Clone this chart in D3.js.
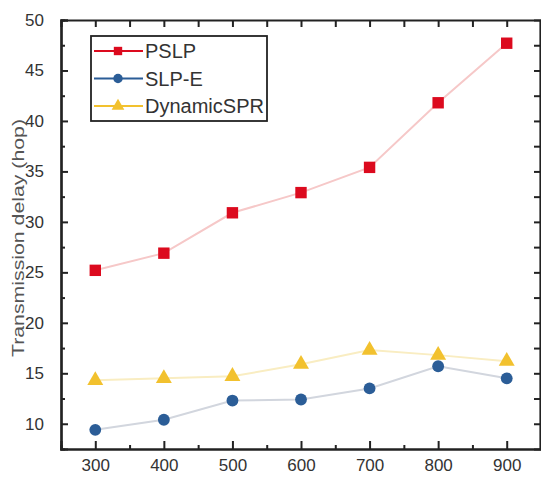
<!DOCTYPE html>
<html lang="en">
<head>
<meta charset="utf-8">
<script src="https://d3js.org/d3.v7.min.js"></script>
<style>
  body { margin: 0; background: #fff; }
  text { font-family: "Liberation Sans", Arial, sans-serif; }
</style>
</head>
<body>
<div id="container"></div>
<script>
var nodes = [300, 400, 500, 600, 700, 800, 900];
var pslp = [25.2, 26.9, 30.9, 32.9, 35.4, 41.8, 47.7];
var slpE = [9.4, 10.4, 12.3, 12.4, 13.5, 15.7, 14.5];
var dynamicSPR = [14.3, 14.5, 14.7, 15.9, 17.3, 16.8, 16.2];
var yTicks = [10, 15, 20, 25, 30, 35, 40, 45, 50];
var seriesNames = ["PSLP", "SLP-E", "DynamicSPR"];

var width = 541, height = 479;
var svg = d3.select("#container").append("svg")
    .attr("width", width).attr("height", height);

var x = d3.scaleLinear().domain([250, 950]).range([61, 541]);
var y = d3.scaleLinear().domain([7.5, 50]).range([449, 20]);

var series = [
  {name: seriesNames[0], values: pslp, marker: "square", color: "#dc0a1e", line: "#f6c8c8"},
  {name: seriesNames[1], values: slpE, marker: "circle", color: "#2b5d97", line: "#d2d6de"},
  {name: seriesNames[2], values: dynamicSPR, marker: "triangle", color: "#f2c12e", line: "#f9edc2"}
];

function symbolFor(m) {
  if (m == "square") return d3.symbol().type(d3.symbolSquare).size(130);
  if (m == "circle") return d3.symbol().type(d3.symbolCircle).size(110);
  return d3.symbol().type(d3.symbolTriangle).size(110);
}

// lines
series.forEach(function(s) {
  svg.append("path")
    .datum(nodes.map(function(n, i) { return [n, s.values[i]]; }))
    .attr("d", d3.line().x(function(d) { return x(d[0]); }).y(function(d) { return y(d[1]); }))
    .attr("fill", "none")
    .attr("stroke", s.line)
    .attr("stroke-width", 2);
});
// markers
series.forEach(function(s) {
  svg.append("g").selectAll("path")
    .data(nodes.map(function(n, i) { return [n, s.values[i]]; }))
    .enter().append("path")
    .attr("d", symbolFor(s.marker))
    .attr("transform", function(d) { return "translate(" + x(d[0]) + "," + y(d[1]) + ")"; })
    .attr("fill", s.color);
});

// axes (ticks pointing inward)
var axisColor = "#222";
svg.append("g").attr("transform", "translate(0,449)")
  .call(d3.axisBottom(x).tickValues(nodes).tickSize(-8).tickPadding(10).tickFormat(d3.format("d")));
svg.append("g").attr("transform", "translate(0,449)")
  .call(d3.axisBottom(x).tickValues([350, 450, 550, 650, 750, 850]).tickSize(-4).tickFormat(""));
svg.append("g").attr("transform", "translate(0,20)")
  .call(d3.axisTop(x).tickValues(d3.range(300, 950, 50)).tickSize(-7).tickFormat(""));
svg.append("g").attr("transform", "translate(61,0)")
  .call(d3.axisLeft(y).tickValues(yTicks).tickSize(-7).tickPadding(17).tickFormat(d3.format("d")));
svg.append("g").attr("transform", "translate(61,0)")
  .call(d3.axisLeft(y).tickValues(d3.range(12.5, 50, 5)).tickSize(-4).tickFormat(""));
svg.append("g").attr("transform", "translate(540,0)")
  .call(d3.axisRight(y).tickValues(d3.range(10, 50, 2.5)).tickSize(-6).tickFormat(""));

svg.selectAll(".domain").attr("stroke", axisColor).attr("stroke-width", 2.2);
svg.selectAll(".tick line").attr("stroke", axisColor).attr("stroke-width", 2);
svg.selectAll(".tick text").attr("fill", "#333").style("font-size", "17px");

svg.append("text")
  .attr("transform", "translate(24,238) rotate(-90)")
  .attr("text-anchor", "middle")
  .attr("fill", "#555")
  .attr("textLength", 238)
  .attr("lengthAdjust", "spacingAndGlyphs")
  .style("font-size", "17px")
  .text("Transmission delay (hop)");

// legend
var lg = svg.append("g");
lg.append("rect").attr("x", 91).attr("y", 36).attr("width", 176).attr("height", 85)
  .attr("fill", "#fff").attr("stroke", "#222").attr("stroke-width", 1.8);
series.forEach(function(s, i) {
  var ly = 51 + i * 27.5;
  lg.append("line").attr("x1", 94).attr("x2", 143).attr("y1", ly).attr("y2", ly)
    .attr("stroke", s.color).attr("stroke-width", 2);
  lg.append("path").attr("d", symbolFor(s.marker).size(70))
    .attr("transform", "translate(118," + ly + ")").attr("fill", s.color);
  lg.append("text").attr("x", 145).attr("y", ly + 7).attr("fill", "#333")
    .style("font-size", "20px").text(s.name);
});
</script>
</body>
</html>
